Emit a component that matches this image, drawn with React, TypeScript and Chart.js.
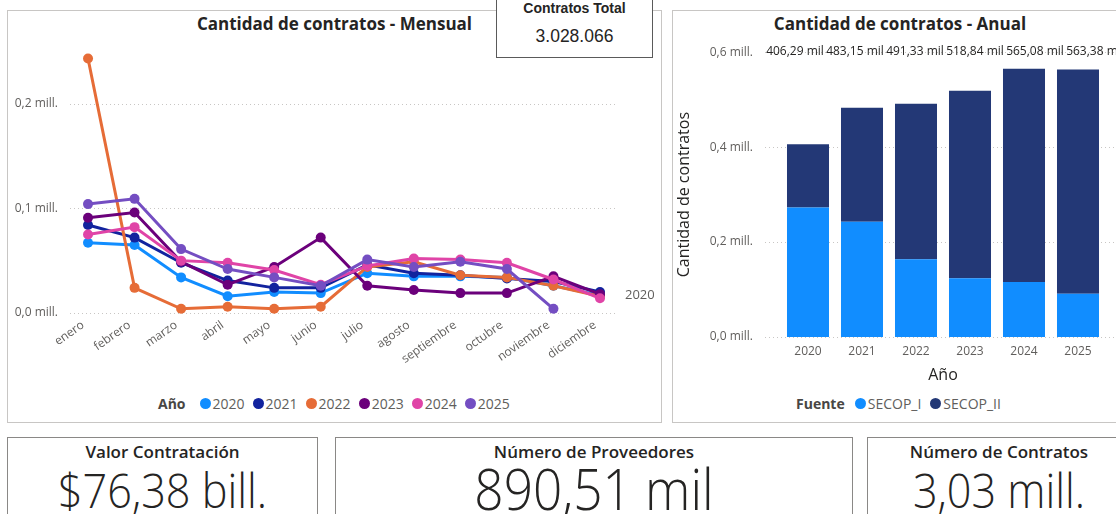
import React, { useEffect, useRef } from "react";
import { Chart, registerables } from "chart.js";

Chart.register(...registerables);

const FONT = "'Segoe UI', 'Open Sans', sans-serif";

// ---- Monthly chart data (millions of contracts) ----
const months = ["enero", "febrero", "marzo", "abril", "mayo", "junio", "julio", "agosto", "septiembre", "octubre", "noviembre", "diciembre"];
const years = ["2020", "2021", "2022", "2023", "2024", "2025"];
const v2020 = [0.067, 0.065, 0.034, 0.016, 0.020, 0.019, 0.038, 0.035, 0.035, 0.034, 0.026, 0.017];
const v2021 = [0.084, 0.072, 0.048, 0.031, 0.024, 0.024, 0.046, 0.038, 0.036, 0.033, 0.030, 0.020];
const v2022 = [0.243, 0.024, 0.004, 0.006, 0.004, 0.006, 0.044, 0.049, 0.036, 0.034, 0.026, 0.016];
const v2023 = [0.091, 0.096, 0.049, 0.027, 0.044, 0.072, 0.026, 0.022, 0.019, 0.019, 0.035, 0.018];
const v2024 = [0.075, 0.082, 0.050, 0.048, 0.041, 0.027, 0.045, 0.052, 0.051, 0.048, 0.032, 0.014];
const v2025 = [0.104, 0.109, 0.061, 0.042, 0.034, 0.026, 0.051, 0.044, 0.049, 0.042, 0.004, null];
const yearColors = ["#118DFF", "#12239E", "#E66C37", "#6B007B", "#E044A7", "#744EC2"];
const monthlyTicks = [0, 0.1, 0.2];

// ---- Annual chart data (thousands of contracts) ----
const annualYears = ["2020", "2021", "2022", "2023", "2024", "2025"];
const secopI = [273, 243, 164, 124, 116, 91];
const secopII = [133.29, 240.15, 327.33, 394.84, 449.08, 472.38];
const sourceNames = ["SECOP_I", "SECOP_II"];
const sourceColors = ["#118DFF", "#233876"];
const annualTicks = [0, 200, 400, 600];

// ---- KPI cards ----
const kpiTitles = ["Valor Contratación", "Número de Proveedores", "Número de Contratos"];
const kpiValues = ["$76,38 bill.", "890,51 mil", "3,03 mill."];
const totalTitle = "Contratos Total";
const totalValue = "3.028.066";

const fmtMill = (v: number) => v.toFixed(1).replace(".", ",") + " mill.";

const GRID_EXTEND_LEFT = 16;
const TOTAL_LABEL_STEP = 60;

const dottedGrid = (ticks: number[], extendLeft: number, toCanvasEdge: boolean) => ({
  id: "dottedGrid",
  beforeDatasetsDraw(chart: any) {
    const { ctx, chartArea, scales } = chart;
    ctx.save();
    ctx.strokeStyle = "#C8C6C4";
    ctx.lineWidth = 1;
    ctx.setLineDash([1, 3]);
    ticks.forEach((t) => {
      const y = Math.round(scales.y.getPixelForValue(t)) + 0.5;
      ctx.beginPath();
      ctx.moveTo(chartArea.left - extendLeft, y);
      ctx.lineTo(toCanvasEdge ? chart.width : chartArea.right, y);
      ctx.stroke();
    });
    ctx.restore();
  },
});

export default function App() {
  const lineRef = useRef<HTMLCanvasElement>(null);
  const barRef = useRef<HTMLCanvasElement>(null);

  useEffect(() => {
    Chart.defaults.font.family = FONT;
    const series = [v2020, v2021, v2022, v2023, v2024, v2025];

    const seriesLabel = {
      id: "seriesLabel",
      afterDatasetsDraw(chart: any) {
        const meta = chart.getDatasetMeta(0);
        const pts = meta.data;
        const last = pts[pts.length - 1];
        if (!last) return;
        const { ctx, chartArea } = chart;
        ctx.save();
        ctx.fillStyle = "#605E5C";
        ctx.font = `13px ${FONT}`;
        ctx.textAlign = "left";
        ctx.textBaseline = "middle";
        ctx.fillText(years[0], chartArea.right + 7, last.y);
        ctx.restore();
      },
    };

    const line = new Chart(lineRef.current!, {
      type: "line",
      data: {
        datasets: series.map((s, i) => ({
          label: years[i],
          data: s.map((v, j) => ({ x: j, y: v })),
          borderColor: yearColors[i],
          backgroundColor: yearColors[i],
          borderWidth: 3,
          pointRadius: 5,
          pointHoverRadius: 5,
          pointBorderWidth: 0,
          tension: 0,
          order: 5 - i,
          clip: false as any,
        })),
      },
      options: {
        animation: false,
        responsive: false,
        maintainAspectRatio: false,
        layout: { padding: { top: 0, right: 42, bottom: 0, left: 0 } },
        plugins: { legend: { display: false }, tooltip: { enabled: false } },
        scales: {
          x: {
            type: "linear",
            min: -0.387,
            max: 11.387,
            afterBuildTicks: (s: any) => {
              s.ticks = months.map((_, i) => ({ value: i }));
            },
            afterFit: (s: any) => {
              s.height = 67;
            },
            ticks: {
              autoSkip: false,
              minRotation: 35,
              maxRotation: 35,
              padding: 5,
              labelOffset: -5,
              color: "#605E5C",
              font: { size: 12, family: FONT },
              callback: (v: any) => months[Math.round(Number(v))] ?? "",
            },
            grid: { display: false, drawTicks: false },
            border: { display: false },
          },
          y: {
            type: "linear",
            min: 0,
            max: 0.25,
            afterBuildTicks: (s: any) => {
              s.ticks = monthlyTicks.map((v) => ({ value: v }));
            },
            afterFit: (s: any) => {
              s.width = 62;
            },
            ticks: {
              padding: 12,
              color: "#605E5C",
              font: { size: 12, family: FONT },
              callback: (v: any) => fmtMill(Number(v)),
            },
            grid: { display: false, drawTicks: false },
            border: { display: false },
          },
        },
      },
      plugins: [dottedGrid(monthlyTicks, 0, false), seriesLabel],
    });

    const totalsLabel = {
      id: "totalsLabel",
      afterDatasetsDraw(chart: any) {
        const { ctx, scales, chartArea } = chart;
        const y = scales.y.getPixelForValue(annualTicks[annualTicks.length - 1]);
        const x0 = chartArea.left - GRID_EXTEND_LEFT;
        ctx.save();
        ctx.fillStyle = "#252423";
        ctx.font = `12px ${FONT}`;
        ctx.textAlign = "center";
        ctx.textBaseline = "middle";
        annualYears.forEach((_, i) => {
          const total = secopI[i] + secopII[i];
          const txt = total.toFixed(2).replace(".", ",") + " mil";
          ctx.fillText(txt, x0 + (i + 0.5) * TOTAL_LABEL_STEP, y - 1);
        });
        ctx.restore();
      },
    };

    const bar = new Chart(barRef.current!, {
      type: "bar",
      data: {
        labels: annualYears,
        datasets: [secopI, secopII].map((d, i) => ({
          label: sourceNames[i],
          data: d,
          backgroundColor: sourceColors[i],
          borderWidth: 0,
          categoryPercentage: 1,
          barPercentage: 0.778,
        })),
      },
      options: {
        animation: false,
        responsive: false,
        maintainAspectRatio: false,
        layout: { padding: { top: 0, right: 11, bottom: 0, left: 0 } },
        plugins: { legend: { display: false }, tooltip: { enabled: false } },
        scales: {
          x: {
            stacked: true,
            afterFit: (s: any) => {
              s.height = 50;
            },
            ticks: { padding: 7, color: "#605E5C", font: { size: 12, family: FONT } },
            title: {
              display: true,
              text: "Año",
              color: "#252423",
              font: { size: 16, family: FONT },
              padding: { top: 0, bottom: 2 },
            },
            grid: { display: false, drawTicks: false },
            border: { display: false },
          },
          y: {
            stacked: true,
            min: 0,
            max: 600,
            afterBuildTicks: (s: any) => {
              s.ticks = annualTicks.map((v) => ({ value: v }));
            },
            afterFit: (s: any) => {
              s.width = 108;
            },
            ticks: {
              padding: 28,
              color: "#605E5C",
              font: { size: 12, family: FONT },
              callback: (v: any) => fmtMill(Number(v) / 1000),
            },
            title: {
              display: true,
              text: "Cantidad de contratos",
              color: "#252423",
              font: { size: 16, family: FONT },
              padding: { top: 2, bottom: 0 },
            },
            grid: { display: false, drawTicks: false },
            border: { display: false },
          },
        },
      },
      plugins: [dottedGrid(annualTicks, GRID_EXTEND_LEFT, true), totalsLabel],
    });

    return () => {
      line.destroy();
      bar.destroy();
    };
  }, []);

  const abs = (l: number, t: number, w: number, h: number): React.CSSProperties => ({
    position: "absolute",
    left: l,
    top: t,
    width: w,
    height: h,
    boxSizing: "border-box",
  });

  const dot = (c: string): React.CSSProperties => ({
    width: 11,
    height: 11,
    borderRadius: "50%",
    background: c,
    marginRight: 2,
    flex: "0 0 auto",
  });

  const cards = [
    { l: 7, w: 311, fs: 48, top: 28 },
    { l: 335, w: 518, fs: 57, top: 22 },
    { l: 867, w: 264, fs: 48, top: 28 },
  ];

  return (
    <div
      style={{
        position: "absolute",
        left: 0,
        top: 0,
        width: 1116,
        height: 514,
        overflow: "hidden",
        background: "#FFFFFF",
        fontFamily: FONT,
      }}
    >
      {/* Left panel */}
      <div style={{ ...abs(7, 10, 655, 413), border: "1px solid #C8C6C4" }} />
      <div
        style={{
          ...abs(7, 13, 655, 22),
          textAlign: "center",
          fontWeight: 700,
          fontSize: 17,
          lineHeight: "22px",
          color: "#252423",
        }}
      >
        Cantidad de contratos - Mensual
      </div>
      <canvas ref={lineRef} width={652} height={348} style={{ position: "absolute", left: 8, top: 32, width: 652, height: 348 }} />
      <div
        style={{
          position: "absolute",
          left: 158,
          top: 394,
          height: 18,
          display: "flex",
          alignItems: "center",
          fontSize: 14,
          color: "#605E5C",
          whiteSpace: "nowrap",
        }}
      >
        <span style={{ fontWeight: 700, color: "#484644", marginRight: 14 }}>Año</span>
        {years.map((y, i) => (
          <span key={y} style={{ display: "flex", alignItems: "center", marginRight: 8 }}>
            <span style={dot(yearColors[i])} />
            <span>{y}</span>
          </span>
        ))}
      </div>

      {/* Right panel */}
      <div style={{ ...abs(672, 10, 460, 413), border: "1px solid #C8C6C4" }} />
      <div
        style={{
          ...abs(672, 13, 456, 22),
          textAlign: "center",
          fontWeight: 700,
          fontSize: 17,
          lineHeight: "22px",
          color: "#252423",
        }}
      >
        Cantidad de contratos - Anual
      </div>
      <canvas ref={barRef} width={443} height={370} style={{ position: "absolute", left: 673, top: 17, width: 443, height: 370 }} />
      <div
        style={{
          position: "absolute",
          left: 796,
          top: 394,
          height: 18,
          display: "flex",
          alignItems: "center",
          fontSize: 14,
          color: "#605E5C",
          whiteSpace: "nowrap",
        }}
      >
        <span style={{ fontWeight: 700, color: "#484644", marginRight: 10 }}>Fuente</span>
        {sourceNames.map((s, i) => (
          <span key={s} style={{ display: "flex", alignItems: "center", marginRight: 9 }}>
            <span style={dot(sourceColors[i])} />
            <span>{s}</span>
          </span>
        ))}
      </div>

      {/* Contratos Total box */}
      <div
        style={{
          ...abs(496, -2, 157, 60),
          border: "1.5px solid #5A5A5A",
          background: "#FFFFFF",
          fontFamily: "'Liberation Sans', Arial, sans-serif",
          color: "#252423",
          textAlign: "center",
        }}
      >
        <div style={{ position: "absolute", left: 0, right: 0, top: 1, fontWeight: 700, fontSize: 14, lineHeight: "16px" }}>
          {totalTitle}
        </div>
        <div style={{ position: "absolute", left: 0, right: 0, top: 27, fontSize: 17.5, lineHeight: "20px" }}>{totalValue}</div>
      </div>

      {/* KPI cards */}
      {cards.map((c, i) => (
        <div
          key={i}
          style={{
            ...abs(c.l, 437, c.w, 100),
            border: "1.5px solid #8A8886",
            color: "#252423",
            textAlign: "center",
          }}
        >
          <div style={{ position: "absolute", left: 0, right: 0, top: 3, fontWeight: 600, fontSize: 17, lineHeight: "22px" }}>
            {kpiTitles[i]}
          </div>
          <div
            style={{
              position: "absolute",
              left: 0,
              right: 0,
              top: c.top,
              fontWeight: 300,
              fontSize: c.fs,
              lineHeight: `${c.fs}px`,
              whiteSpace: "nowrap",
              transform: "scaleX(0.9)",
              transformOrigin: "center",
            }}
          >
            {kpiValues[i]}
          </div>
        </div>
      ))}
    </div>
  );
}
